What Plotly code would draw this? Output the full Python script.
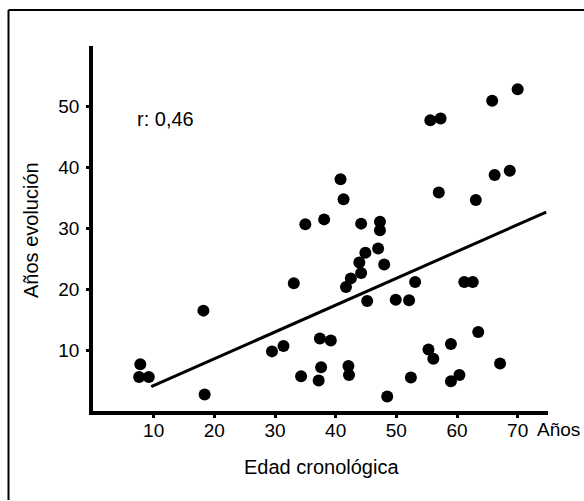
import plotly.graph_objects as go

# Data
edad = [7.8, 7.6, 9.2, 18.2, 18.4, 29.5, 31.4, 33.1, 35.0, 34.3, 38.1, 37.4, 39.2, 37.6, 37.2,
        40.8, 41.3, 41.7, 42.5, 42.1, 42.2, 44.2, 43.9, 44.2, 44.9, 45.2, 47.3, 47.3, 47.0, 48.0,
        48.5, 49.9, 52.1, 53.1, 52.4, 55.3, 56.1, 55.6, 57.3, 57.0, 59.0, 59.0, 60.4, 61.2, 62.6,
        63.1, 63.5, 65.8, 66.2, 67.1, 68.7, 70.0]
evolucion = [7.7, 5.6, 5.6, 16.5, 2.7, 9.8, 10.7, 21.0, 30.7, 5.7, 31.5, 11.9, 11.6, 7.2, 5.0,
             38.1, 34.8, 20.4, 21.8, 7.4, 5.9, 30.8, 24.4, 22.7, 26.0, 18.1, 31.1, 29.7, 26.7, 24.1,
             2.4, 18.3, 18.2, 21.2, 5.5, 10.1, 8.6, 47.8, 48.1, 35.9, 11.0, 4.9, 5.9, 21.2, 21.2,
             34.7, 13.0, 51.0, 38.8, 7.8, 39.5, 52.9]

# Regression line endpoints
recta_x = [9.6, 74.7]
recta_y = [4.0, 32.7]

x_ticks = [10, 20, 30, 40, 50, 60, 70]
y_ticks = [10, 20, 30, 40, 50]

FONT = "Liberation Sans, Arial, Helvetica, sans-serif"

fig = go.Figure()
fig.add_trace(go.Scatter(x=recta_x, y=recta_y, mode="lines",
                         line=dict(color="black", width=3), hoverinfo="skip"))
fig.add_trace(go.Scatter(x=edad, y=evolucion, mode="markers",
                         marker=dict(color="black", size=12, symbol="circle")))

W, H = 584, 501
L, R, T, B = 93, 36, 46, 90
pw, ph = W - L - R, H - T - B

def px_x(p):
    return (p - L) / pw

def px_y(p):
    return (H - B - p) / ph

fig.update_layout(
    width=W, height=H,
    margin=dict(l=L, r=R, t=T, b=B, autoexpand=False),
    paper_bgcolor="white", plot_bgcolor="white",
    showlegend=False,
    font=dict(family=FONT, color="black", size=19),
    xaxis=dict(range=[0, 75], tickvals=x_ticks, ticktext=[str(v) for v in x_ticks],
               showgrid=False, zeroline=False, showline=True, linecolor="black", linewidth=3.5,
               ticks="outside", ticklen=3, tickwidth=3, tickcolor="black",
               ticklabelstandoff=-4, tickfont=dict(size=19, family=FONT, color="black")),
    yaxis=dict(range=[0, 60], tickvals=y_ticks, ticktext=[str(v) for v in y_ticks],
               showgrid=False, zeroline=False, showline=True, linecolor="black", linewidth=3.5,
               ticks="outside", ticklen=3, tickwidth=3, tickcolor="black",
               ticklabelstandoff=3, tickfont=dict(size=19, family=FONT, color="black")),
    annotations=[
        dict(text="r: 0,46", x=px_x(135), y=px_y(119), xref="paper", yref="paper",
             xanchor="left", yanchor="middle", showarrow=False, font=dict(size=20)),
        dict(text="Años", x=px_x(535), y=px_y(430), xref="paper", yref="paper",
             xanchor="left", yanchor="middle", showarrow=False, font=dict(size=19)),
        dict(text="Edad cronológica", x=px_x(321), y=px_y(467), xref="paper", yref="paper",
             xanchor="center", yanchor="middle", showarrow=False, font=dict(size=20)),
        dict(text="Años evolución", x=px_x(31), y=px_y(230), xref="paper", yref="paper",
             xanchor="center", yanchor="middle", showarrow=False, textangle=-90,
             font=dict(size=20)),
    ],
    shapes=[
        dict(type="line", xref="paper", yref="paper", x0=px_x(8.5), x1=px_x(584),
             y0=px_y(10), y1=px_y(10), line=dict(color="black", width=2)),
        dict(type="line", xref="paper", yref="paper", x0=px_x(8.5), x1=px_x(8.5),
             y0=px_y(10), y1=px_y(500), line=dict(color="black", width=2)),
    ],
)

fig.write_html("out.html")
